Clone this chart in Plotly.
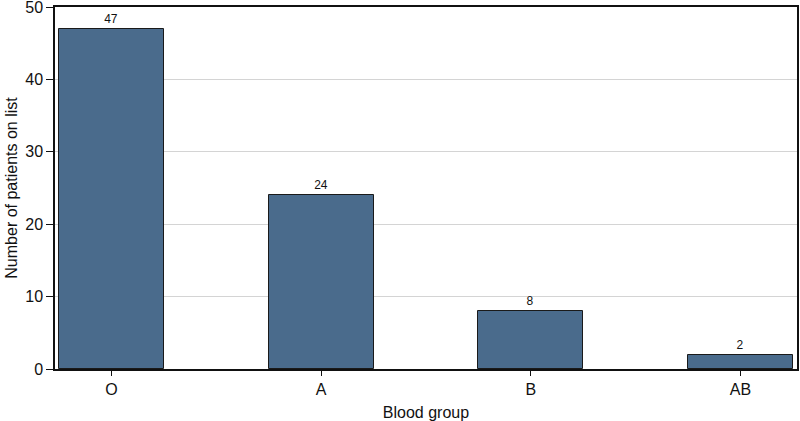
import plotly.graph_objects as go

categories = ["O", "A", "B", "AB"]
counts = [47, 24, 8, 2]
y_ticks = [0, 10, 20, 30, 40, 50]

fig = go.Figure(go.Bar(
    x=list(range(len(categories))),
    y=counts,
    width=0.5,
    marker=dict(color="#4a6b8c", line=dict(color="#1a1a1a", width=1)),
    text=[str(c) for c in counts],
    textposition="outside",
    textfont=dict(size=12, color="#111111", family="Liberation Sans, Arial, sans-serif"),
    cliponaxis=False,
))

fig.update_layout(
    width=800, height=421,
    margin=dict(l=55, r=3, t=7, b=52, autoexpand=False),
    plot_bgcolor="white", paper_bgcolor="white",
    font=dict(family="Liberation Sans, Arial, sans-serif", color="#111111"),
    showlegend=False,
    bargap=0,
)
fig.update_xaxes(
    range=[-0.27, 3.27],
    tickvals=list(range(len(categories))),
    ticktext=categories,
    ticks="outside", ticklen=5, tickcolor="#111111",
    tickfont=dict(size=16),
    showline=True, linecolor="#111111", linewidth=1.5, mirror=True,
    showgrid=False, zeroline=False, automargin=False,
    ticklabeloverflow="allow",
    title=dict(text="Blood group", font=dict(size=16), standoff=10),
)
fig.update_yaxes(
    range=[0, 50],
    tickvals=y_ticks,
    ticks="outside", ticklen=7, tickcolor="#111111",
    tickfont=dict(size=16),
    showline=True, linecolor="#111111", linewidth=1.5, mirror=True,
    showgrid=True, gridcolor="#d4d4d4", gridwidth=1,
    zeroline=False, automargin=False,
    ticklabeloverflow="allow",
    title=dict(text="Number of patients on list", font=dict(size=16), standoff=4),
)

fig.write_html("out.html", config={"displayModeBar": False},
               post_script="document.body.style.margin='0';")
